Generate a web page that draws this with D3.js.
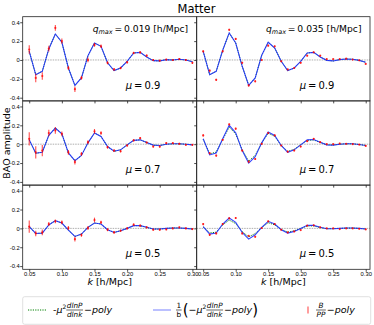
<!DOCTYPE html>
<html>
  <head>
    <meta charset="UTF-8">
    <title>Matter BAO amplitude</title>
    <style>
    body {
      margin: 0;
      background: #fff;
    }
    svg {
      display: block;
      font-family: "DejaVu Sans", sans-serif;
    }
    .frame {
      fill: none;
      stroke: #222;
      stroke-width: 0.8px;
    }
    .tick line {
      stroke: #222;
      stroke-width: 0.8px;
    }
    .tick text {
      font-size: 5.8px;
      fill: #000;
    }
    .zero {
      stroke: #999;
      stroke-width: 0.8px;
      stroke-dasharray: 1.5,1;
    }
    .model {
      fill: none;
      stroke: green;
      stroke-width: 1px;
      stroke-dasharray: 1.2,1.2;
    }
    .fit {
      fill: none;
      stroke: #1f2fff;
      stroke-width: 1.1px;
      stroke-opacity: 0.9;
    }
    .err {
      stroke: red;
      stroke-width: 1.1px;
      stroke-opacity: 0.7;
    }
    .dot {
      fill: red;
      fill-opacity: 0.75;
    }
    </style>
  </head>
  <body>
    <svg width="374" height="325"></svg>
    <script src="https://cdn.jsdelivr.net/npm/d3@7"></script>
    <script>
// k values of the bins [h/Mpc]
var kValues = [0.05, 0.06, 0.07, 0.08, 0.09, 0.10, 0.11, 0.12, 0.13, 0.14, 0.15, 0.16, 0.17,
               0.18, 0.19, 0.20, 0.21, 0.22, 0.23, 0.24, 0.25, 0.26, 0.27, 0.28, 0.29, 0.30];

var xTicks = [0.05, 0.10, 0.15, 0.20, 0.25, 0.30];
var yTicks = [-0.4, -0.2, 0, 0.2, 0.4];
var muLabels = ["0.9", "0.7", "0.5"];
var qmaxLabels = ["0.019", "0.035"];

// q_max = 0.019
var fitQ019Mu09 = [0.092, -0.156, -0.12, 0.117, 0.276, 0.188, -0.085, -0.27, -0.19, 0.046, 0.18, 0.145, -0.03,
                   -0.113, -0.085, -0.014, 0.074, 0.081, 0.032, -0.007, -0.01, 0.004, 0, 0.007, 0, -0.018];
var measQ019Mu09 = [0.11, -0.19, -0.17, 0.12, 0.34, 0.2, -0.085, -0.31, -0.19, 0.0, 0.16, 0.145, -0.03,
                    -0.1, -0.085, -0.025, 0.074, 0.08, 0.046, 0, -0.007, 0.004, 0, 0.01, 0, -0.03];
var errQ019Mu09 = [0.045, 0.045, 0.04, 0.03, 0.03, 0.028, 0.02, 0.03, 0.02, 0.025, 0.02, 0.018, 0.016,
                   0.015, 0.014, 0.013, 0.012, 0.012, 0.011, 0.01, 0.01, 0.01, 0.01, 0.01, 0.01, 0.012];

var fitQ019Mu07 = [0.046, -0.096, -0.086, 0.093, 0.171, 0.11, -0.093, -0.175, -0.12, 0.014, 0.118, 0.082, -0.025,
                   -0.075, -0.06, -0.007, 0.04, 0.046, 0.018, -0.01, -0.014, 0, 0.004, 0.004, 0, -0.007];
var measQ019Mu07 = [0.057, -0.086, -0.068, 0.118, 0.146, 0.11, -0.086, -0.19, -0.104, 0.021, 0.136, 0.118, -0.032,
                    -0.068, -0.075, -0.014, 0.04, 0.064, 0.018, -0.025, -0.025, 0.011, 0.011, 0.004, -0.007, -0.007];
var errQ019Mu07 = [0.07, 0.065, 0.06, 0.035, 0.035, 0.025, 0.025, 0.025, 0.02, 0.02, 0.025, 0.018, 0.016,
                   0.015, 0.014, 0.013, 0.012, 0.012, 0.011, 0.01, 0.012, 0.01, 0.01, 0.01, 0.01, 0.01];

var fitQ019Mu05 = [0.018, -0.054, -0.05, 0.036, 0.082, 0.057, -0.018, -0.086, -0.061, 0.011, 0.057, 0.046, -0.014,
                   -0.043, -0.025, 0, 0.029, 0.029, 0.011, -0.007, -0.007, 0, 0.004, 0.004, 0, -0.007];
var measQ019Mu05 = [0.018, -0.054, -0.043, 0.046, 0.075, 0.064, 0.004, -0.114, -0.071, 0.004, 0.089, 0.064, -0.014,
                    -0.043, -0.025, 0, 0.039, 0.029, 0.011, -0.014, -0.014, -0.011, 0, 0.011, 0, -0.007];
var errQ019Mu05 = [0.065, 0.03, 0.03, 0.022, 0.02, 0.02, 0.02, 0.025, 0.018, 0.02, 0.025, 0.018, 0.016,
                   0.015, 0.012, 0.012, 0.014, 0.012, 0.011, 0.01, 0.01, 0.01, 0.01, 0.01, 0.01, 0.01];

// q_max = 0.035
var fitQ035Mu09 = [0.092, -0.156, -0.12, 0.103, 0.287, 0.18, -0.067, -0.27, -0.19, 0.05, 0.188, 0.127, -0.014,
                   -0.113, -0.085, -0.014, 0.074, 0.081, 0.032, -0.004, -0.01, 0.004, 0.01, 0.007, -0.004, -0.025];
var measQ035Mu09 = [0.092, -0.113, -0.21, 0.092, 0.32, 0.223, -0.03, -0.27, -0.226, 0.0, 0.152, 0.145, -0.014,
                    -0.1, -0.085, -0.03, 0.046, 0.081, 0.046, 0.01, 0.01, 0.01, 0.014, 0.004, -0.004, -0.042];

var fitQ035Mu07 = [0.057, -0.114, -0.093, 0.057, 0.2, 0.121, -0.068, -0.2, -0.132, 0.014, 0.129, 0.093, -0.014,
                   -0.086, -0.06, -0.007, 0.046, 0.05, 0.021, -0.007, -0.01, 0, 0.004, 0.004, -0.004, -0.014];
var modelQ035Mu07 = [0.052, -0.103, -0.084, 0.051, 0.18, 0.109, -0.061, -0.18, -0.119, 0.013, 0.116, 0.084, -0.013,
                     -0.077, -0.054, -0.006, 0.041, 0.045, 0.019, -0.006, -0.009, 0, 0.004, 0.004, -0.004, -0.013];
var measQ035Mu07 = [0.093, -0.096, -0.121, 0.046, 0.21, 0.164, -0.068, -0.186, -0.157, 0.004, 0.118, 0.093, -0.014,
                    -0.079, -0.068, -0.025, 0.032, 0.057, 0.021, 0, 0, 0.007, 0.004, 0, -0.004, -0.018];

var fitQ035Mu05 = [0.018, -0.061, -0.05, 0.046, 0.11, 0.064, -0.043, -0.114, -0.068, 0.011, 0.075, 0.046, -0.014,
                   -0.05, -0.032, 0, 0.032, 0.032, 0.011, -0.004, -0.004, 0, 0.004, 0.004, 0, -0.007];
var modelQ035Mu05 = [0.015, -0.049, -0.04, 0.037, 0.088, 0.051, -0.034, -0.091, -0.054, 0.009, 0.06, 0.037, -0.011,
                     -0.04, -0.026, 0, 0.026, 0.026, 0.009, -0.003, -0.003, 0, 0.003, 0.003, 0, -0.006];
var measQ035Mu05 = [0.046, -0.068, -0.054, 0.046, 0.107, 0.11, -0.054, -0.079, -0.089, 0.004, 0.075, 0.046, -0.014,
                    -0.043, -0.032, -0.018, 0.029, 0.032, 0.011, 0, 0, -0.007, 0, 0, -0.004, -0.011];

var errQ035 = [0.012, 0.012, 0.012, 0.01, 0.01, 0.01, 0.01, 0.01, 0.01, 0.009, 0.009, 0.009, 0.008,
               0.008, 0.008, 0.008, 0.008, 0.008, 0.008, 0.007, 0.007, 0.007, 0.007, 0.007, 0.007, 0.007];

// green model coincides with the blue fit where it is not visible separately
var panels = [
  {row: 0, col: 0, fit: fitQ019Mu09, model: fitQ019Mu09, meas: measQ019Mu09, err: errQ019Mu09},
  {row: 0, col: 1, fit: fitQ035Mu09, model: fitQ035Mu09, meas: measQ035Mu09, err: errQ035},
  {row: 1, col: 0, fit: fitQ019Mu07, model: fitQ019Mu07, meas: measQ019Mu07, err: errQ019Mu07},
  {row: 1, col: 1, fit: fitQ035Mu07, model: modelQ035Mu07, meas: measQ035Mu07, err: errQ035},
  {row: 2, col: 0, fit: fitQ019Mu05, model: fitQ019Mu05, meas: measQ019Mu05, err: errQ019Mu05},
  {row: 2, col: 1, fit: fitQ035Mu05, model: modelQ035Mu05, meas: measQ035Mu05, err: errQ035}
];

var svg = d3.select("svg"),
    colX = [22.7, 196.7],
    colW = [174, 173.3],
    rowY = [16.7, 100.9, 185.1],
    rowH = 84.2;

// Title
svg.append("text")
    .attr("x", 196.5).attr("y", 13)
    .attr("text-anchor", "middle")
    .style("font-size", "11.5px")
    .text("Matter");

// y label
svg.append("text")
    .attr("transform", "translate(10,143) rotate(-90)")
    .attr("text-anchor", "middle")
    .style("font-size", "9.5px")
    .text("BAO amplitude");

panels.forEach(p => {
  var x0 = colX[p.col], y0 = rowY[p.row];
  var x = d3.scaleLinear().domain([0.040, 0.3066]).range([x0, x0 + colW[p.col]]);
  var y = d3.scaleLinear().domain([-0.434, 0.459]).range([y0 + rowH, y0]);
  var g = svg.append("g");

  // zero line
  g.append("line")
      .attr("class", "zero")
      .attr("x1", x.range()[0]).attr("x2", x.range()[1])
      .attr("y1", y(0)).attr("y2", y(0));

  var line = d3.line()
      .x((d, i) => x(kValues[i]))
      .y(d => y(d));

  g.append("path").attr("class", "model").attr("d", line(p.model));
  g.append("path").attr("class", "fit").attr("d", line(p.fit));

  // error bars
  g.selectAll("line.err")
    .data(p.meas)
    .enter().append("line")
      .attr("class", "err")
      .attr("x1", (d, i) => x(kValues[i])).attr("x2", (d, i) => x(kValues[i]))
      .attr("y1", (d, i) => y(d - p.err[i])).attr("y2", (d, i) => y(d + p.err[i]));

  g.selectAll("circle.dot")
    .data(p.meas)
    .enter().append("circle")
      .attr("class", "dot")
      .attr("cx", (d, i) => x(kValues[i]))
      .attr("cy", d => y(d))
      .attr("r", 1.1);

  // axes
  var yAxis = d3.axisLeft(y).tickValues(yTicks).tickSize(2.5).tickPadding(0.5)
      .tickFormat(d => p.col === 0 ? (d === 0 ? "0" : d.toFixed(1)) : "");
  g.append("g").attr("transform", "translate(" + x0 + ",0)").call(yAxis)
    .call(a => a.select(".domain").remove());

  var xAxis = d3.axisBottom(x).tickValues(xTicks).tickSize(2.5).tickPadding(0)
      .tickFormat(d => p.row === 2 ? d.toFixed(2) : "");
  g.append("g").attr("transform", "translate(0," + (y0 + rowH) + ")").call(xAxis)
    .call(a => a.select(".domain").remove());

  g.append("rect")
      .attr("class", "frame")
      .attr("x", x0).attr("y", y0)
      .attr("width", colW[p.col]).attr("height", rowH);

  // mu label
  var mu = g.append("text")
      .attr("x", x0 + 103).attr("y", y0 + 72)
      .style("font-size", "10px");
  mu.append("tspan").style("font-style", "italic").text("\u03bc");
  mu.append("tspan").text("\u2009=\u2009" + muLabels[p.row]);

  // q_max label
  if (p.row === 0) {
    var q = g.append("text")
        .attr("x", x0 + colW[p.col] - 8.5).attr("y", y0 + 15.5)
        .attr("text-anchor", "end")
        .style("font-size", "9.2px");
    q.append("tspan").style("font-style", "italic").text("q");
    q.append("tspan").attr("dy", 2).style("font-size", "6.5px").style("font-style", "italic").text("max");
    q.append("tspan").attr("dy", -2).text("\u2009=\u2009" + qmaxLabels[p.col] + " [h/Mpc]");
  }

  // k label
  if (p.row === 2) {
    var kl = g.append("text")
        .attr("x", x0 + colW[p.col] / 2).attr("y", 285)
        .attr("text-anchor", "middle")
        .style("font-size", "9.5px");
    kl.append("tspan").style("font-style", "italic").text("k");
    kl.append("tspan").text(" [h/Mpc]");
  }
});

// ****************** legend ***************************
var legend = svg.append("g");
legend.append("rect")
    .attr("x", 22.7).attr("y", 296.7)
    .attr("width", 348).attr("height", 27.6)
    .attr("rx", 2)
    .attr("fill", "#fff")
    .attr("stroke", "#d8d8d8")
    .attr("stroke-width", 0.8);

legend.append("line").attr("class", "model")
    .attr("x1", 28).attr("x2", 46).attr("y1", 310).attr("y2", 310);
legend.append("line").attr("class", "fit").style("stroke-opacity", 0.55)
    .attr("x1", 153).attr("x2", 171).attr("y1", 310).attr("y2", 310);
legend.append("line").attr("class", "err")
    .attr("x1", 308).attr("x2", 308).attr("y1", 306.5).attr("y2", 313.5);

// lays out a row of math pieces, returns the end x
function mathRow(x, base, parts) {
  parts.forEach(p => {
    if (p.frac) {
      var num = legend.append("text").attr("y", base - 4.8)
          .attr("text-anchor", "middle")
          .style("font-size", "7.3px").style("font-style", p.upright ? null : "italic")
          .text(p.frac[0]);
      var den = legend.append("text").attr("y", base + 4)
          .attr("text-anchor", "middle")
          .style("font-size", "7.3px").style("font-style", p.upright ? null : "italic")
          .text(p.frac[1]);
      var w = Math.max(num.node().getComputedTextLength(), den.node().getComputedTextLength()) + 1;
      num.attr("x", x + w / 2);
      den.attr("x", x + w / 2);
      legend.append("line")
          .attr("x1", x).attr("x2", x + w)
          .attr("y1", base - 3).attr("y2", base - 3)
          .attr("stroke", "#000").attr("stroke-width", 0.6);
      x += w + 1;
    } else {
      var t = legend.append("text")
          .attr("x", x).attr("y", base + (p.sup ? -4 : 0) + (p.dy || 0))
          .style("font-size", (p.size || 9.5) + "px")
          .style("font-style", p.italic ? "italic" : null)
          .text(p.t);
      x += t.node().getComputedTextLength();
    }
  });
  return x;
}

mathRow(53, 313, [
  {t: "-"}, {t: "\u03bc", italic: true}, {t: "2", sup: true, size: 6},
  {frac: ["dlnP", "dlnk"]}, {t: " \u2212 "}, {t: "poly", italic: true}
]);
mathRow(176, 313, [
  {frac: ["1", "b"], upright: true}, {t: "(", size: 15, dy: 1.5},
  {t: "\u2212"}, {t: "\u03bc", italic: true}, {t: "2", sup: true, size: 6},
  {frac: ["dlnP", "dlnk"]}, {t: " \u2212 "}, {t: "poly", italic: true},
  {t: ")", size: 15, dy: 1.5}
]);
mathRow(316, 313, [
  {frac: ["B", "PP"]}, {t: " \u2212 "}, {t: "poly", italic: true}
]);
    </script>
  </body>
</html>
